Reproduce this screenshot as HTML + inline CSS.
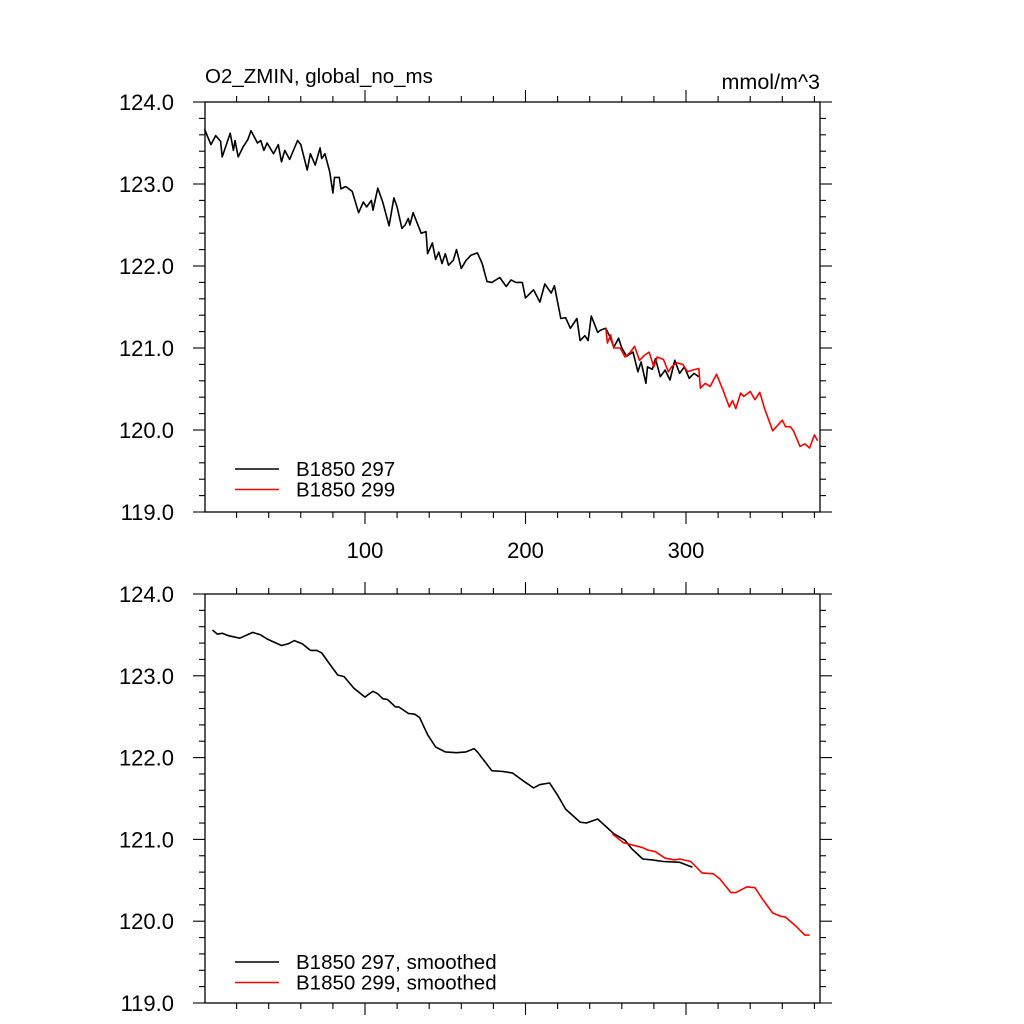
<!DOCTYPE html>
<html><head><meta charset="utf-8"><style>
html,body{margin:0;padding:0;background:#fff;}
svg{display:block;font-family:"Liberation Sans",sans-serif;}
</style></head><body>
<svg id="chart" width="1024" height="1024" viewBox="0 0 1024 1024"></svg>
<script>
const yearsRaw297=[0,4,7,10,11,16,18,19,21,24,27,29,33,35,37,39,43,46,48,50,53,58,60,64,66,69,72,73,75,78,80,81,84,85,88,92,96,99,101,104,105,108,111,115,118,120,123,125,127,128,130,135,138,139,142,144,146,148,150,152,155,157,160,163,166,170,173,176,179,184,188,191,194,198,200,205,209,212,216,218,222,225,228,232,234,237,239,241,245,247,250,253,255,258,260,263,267,270,272,275,276,279,281,284,287,290,293,296,299,302,305,308];
const valsRaw297=[123.67,123.48,123.59,123.52,123.33,123.62,123.41,123.53,123.33,123.45,123.54,123.65,123.50,123.53,123.41,123.50,123.37,123.48,123.27,123.41,123.30,123.53,123.48,123.17,123.37,123.23,123.44,123.31,123.37,123.15,122.89,123.08,123.08,122.94,122.97,122.91,122.65,122.78,122.72,122.80,122.68,122.95,122.78,122.49,122.83,122.72,122.46,122.50,122.58,122.50,122.65,122.40,122.42,122.15,122.28,122.08,122.17,122.03,122.15,122.01,122.07,122.20,121.97,122.07,122.13,122.16,122.03,121.81,121.80,121.86,121.75,121.83,121.80,121.80,121.61,121.71,121.56,121.78,121.67,121.76,121.36,121.37,121.24,121.36,121.09,121.15,121.09,121.39,121.19,121.22,121.24,121.12,121.01,121.12,121.00,120.90,120.95,120.71,120.83,120.57,120.77,120.74,120.87,120.65,120.73,120.61,120.85,120.69,120.77,120.63,120.69,120.65];
const yearsRaw299=[250,251,253,255,259,262,265,268,271,274,277,280,282,286,289,291,294,298,301,304,308,309,312,315,319,323,327,329,331,334,336,340,343,346,349,354,360,362,365,367,371,374,377,380,382];
const valsRaw299=[121.24,121.06,121.16,121.00,121.00,120.89,120.94,121.02,120.85,120.91,120.95,120.77,120.89,120.86,120.71,120.77,120.82,120.80,120.71,120.73,120.75,120.51,120.57,120.53,120.68,120.49,120.28,120.36,120.26,120.45,120.41,120.47,120.37,120.46,120.26,119.99,120.12,120.04,120.04,119.99,119.80,119.83,119.78,119.94,119.87];
const yearsSm297=[5,8,11,15,22,30,35,39,48,52,56,61,66,70,73,77,83,87,93,100,102,105,108,111,114,119,121,127,131,134,139,144,150,157,163,168,170,179,186,192,199,205,209,215,220,225,234,238,245,251,255,262,266,273,279,286,296,304];
const valsSm297=[123.56,123.51,123.52,123.49,123.46,123.53,123.50,123.45,123.37,123.39,123.43,123.39,123.31,123.31,123.28,123.17,123.01,122.99,122.85,122.74,122.77,122.81,122.78,122.72,122.71,122.62,122.62,122.54,122.53,122.49,122.28,122.13,122.07,122.06,122.07,122.11,122.07,121.84,121.83,121.81,121.71,121.63,121.67,121.69,121.54,121.37,121.21,121.20,121.25,121.14,121.07,120.99,120.89,120.76,120.75,120.73,120.72,120.66];
const yearsSm299=[254,261,267,273,276,281,287,293,296,303,310,317,321,328,331,338,343,348,354,359,362,369,374,377];
const valsSm299=[121.07,120.96,120.93,120.90,120.87,120.85,120.77,120.75,120.76,120.73,120.59,120.58,120.52,120.35,120.35,120.42,120.41,120.26,120.10,120.06,120.05,119.93,119.83,119.83];
const yTicks=[124,123,122,121,120,119];
const yTickLabels=["124.0","123.0","122.0","121.0","120.0","119.0"];
const xTicks=[100,200,300];
const xTickLabels=["100","200","300"];

const NS="http://www.w3.org/2000/svg";
const svg=document.getElementById('chart');
const L=205,R=820;
function xs(v){return 365+(v-100)*1.605;}
function mk(tag,attrs,parent){const e=document.createElementNS(NS,tag);for(const k in attrs)e.setAttribute(k,attrs[k]);(parent||svg).appendChild(e);return e;}

function panel(top,bot,name,showX){
  const g=mk('g',{});
  
  
  const ys=v=>top+(124-v)*(bot-top)/5;
  const frame=mk('rect',{x:L,y:top,width:R-L,height:bot-top,fill:'none',stroke:'#000','stroke-width':1.3},g);
  
  
  for(let v=119;v<=124.001;v+=0.2){
    const y=ys(v);const maj=Math.abs(v-Math.round(v))<0.01;const len=maj?12:6;
    const t1=mk('line',{x1:L-len,x2:L,y1:y,y2:y,stroke:'#000','stroke-width':1.1},g);
    
    
    const t2=mk('line',{x1:R,x2:R+len,y1:y,y2:y,stroke:'#000','stroke-width':1.1},g);
    
    
  }
  yTicks.forEach((v,i)=>{
    const t=mk('text',{x:174,y:ys(v)+8,'text-anchor':'end','font-size':22},g);
    t.textContent=yTickLabels[i];
    
    
  });
  for(let v=20;v<=380;v+=20){
    const x=xs(v);const maj=v%100===0;const len=maj?12:6;
    const a=mk('line',{x1:x,x2:x,y1:bot,y2:bot+len,stroke:'#000','stroke-width':1.1},g);
    
    
    const b=mk('line',{x1:x,x2:x,y1:top-len,y2:top,stroke:'#000','stroke-width':1.1},g);
    
    
  }
  if(showX){
    xTicks.forEach((v,i)=>{
      const t=mk('text',{x:xs(v),y:bot+46,'text-anchor':'middle','font-size':22},g);
      t.textContent=xTickLabels[i];
      
      
    });
  }
  return ys;
}
function line(xsArr,vals,ys,color,name,w){
  const d=xsArr.map((v,i)=>(i?'L':'M')+xs(v).toFixed(1)+','+ys(vals[i]).toFixed(1)).join('');
  const p=mk('path',{d:d,fill:'none',stroke:color,'stroke-width':w,'stroke-linejoin':'round'});
  
  
}
function legend(y,items){
  items.forEach((it,i)=>{
    const yy=y+i*20.5;
    const l=mk('line',{x1:235,x2:279,y1:yy,y2:yy,stroke:it[0],'stroke-width':1.5});
    
    
    const t=mk('text',{x:296,y:yy+7,'font-size':20.5});
    t.textContent=it[1];
    
    
  });
}
const ys1=panel(102,512,'top-panel',true);
line(yearsRaw297,valsRaw297,ys1,'#000','series-b1850-297',1.6);
line(yearsRaw299,valsRaw299,ys1,'#f00','series-b1850-299',1.6);
legend(469,[['#000','B1850 297'],['#f00','B1850 299']]);
const ys2=panel(594,1003,'bottom-panel',false);
line(yearsSm297,valsSm297,ys2,'#000','series-b1850-297-smoothed',1.6);
line(yearsSm299,valsSm299,ys2,'#f00','series-b1850-299-smoothed',1.6);
legend(962,[['#000','B1850 297, smoothed'],['#f00','B1850 299, smoothed']]);
const title=mk('text',{x:205,y:83,'font-size':20.5});
title.textContent='O2_ZMIN, global_no_ms';


const units=mk('text',{x:820,y:89,'font-size':21.5,'text-anchor':'end'});
units.textContent='mmol/m^3';


</script>
</body></html>
